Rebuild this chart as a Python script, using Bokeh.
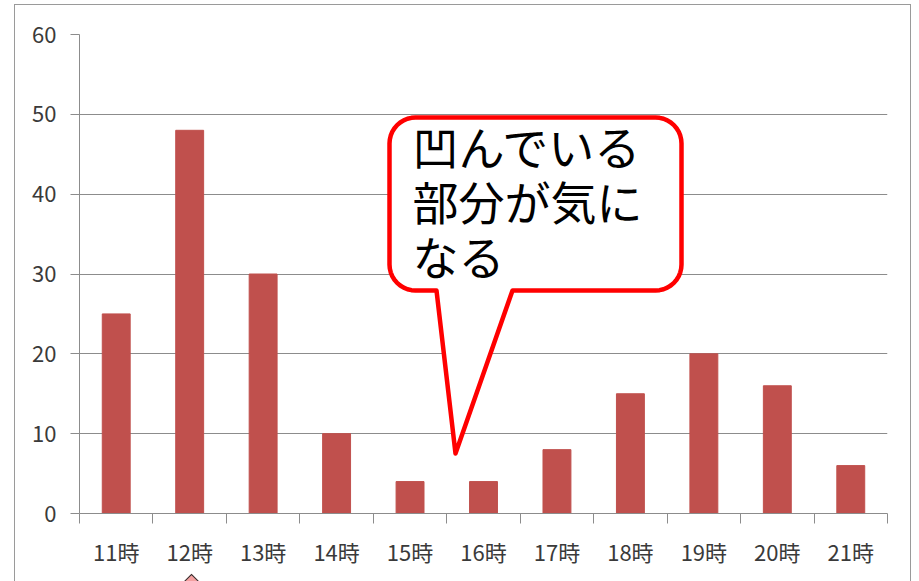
import math
from bokeh.plotting import figure
from bokeh.models import FixedTicker, Range1d, InlineStyleSheet
from bokeh.core.properties import value
from bokeh.embed import file_html
from bokeh.resources import INLINE

# ---- data ----
hours = ["11時", "12時", "13時", "14時", "15時", "16時", "17時", "18時", "19時", "20時", "21時"]
counts = [25, 48, 30, 10, 4, 4, 8, 15, 20, 16, 6]
y_ticks = [0, 10, 20, 30, 40, 50, 60]
callout_lines = ["凹んでいる", "部分が気に", "なる"]

# ---- layout ----
W, H = 915, 581
ML, MT = 79, 34
FW, FH = 808, 479
MR = W - ML - FW
MB = H - MT - FH
Y_MAX = 60
N = len(hours)

p = figure(width=W, height=H, x_range=Range1d(-0.5, N - 0.5), y_range=Range1d(0, Y_MAX),
           output_backend="svg", toolbar_location=None,
           min_border_left=ML, min_border_right=MR, min_border_top=MT, min_border_bottom=MB)
p.outline_line_color = None
p.background_fill_color = "white"
p.border_fill_color = "white"

GRAY = "#8c8c8c"
LABEL_FONT = "Noto Sans CJK JP"

p.vbar(x=list(range(N)), top=counts, width=0.38, color="#c0504d")

# x axis
p.xaxis.ticker = FixedTicker(ticks=list(range(N)), minor_ticks=[i - 0.5 for i in range(N + 1)])
p.xaxis.major_label_overrides = {i: h for i, h in enumerate(hours)}
p.xaxis.major_tick_in = 0
p.xaxis.major_tick_out = 0
p.xaxis.minor_tick_in = 0
p.xaxis.minor_tick_out = 10
p.xaxis.minor_tick_line_color = GRAY
p.xaxis.axis_line_color = GRAY
p.xaxis.major_label_standoff = 11
p.xaxis.major_label_text_font = LABEL_FONT
p.xaxis.major_label_text_font_size = "22px"
p.xaxis.major_label_text_color = "#3a3a3a"

# y axis
p.yaxis.ticker = FixedTicker(ticks=y_ticks, minor_ticks=[])
p.yaxis.major_tick_in = 0
p.yaxis.major_tick_out = 9
p.yaxis.major_tick_line_color = GRAY
p.yaxis.axis_line_color = GRAY
p.yaxis.major_label_standoff = 14
p.yaxis.major_label_text_font = LABEL_FONT
p.yaxis.major_label_text_font_size = "22px"
p.yaxis.major_label_text_color = "#3a3a3a"

p.xgrid.visible = False
p.ygrid.grid_line_color = GRAY
p.ygrid.grid_line_width = 1

# ---- callout: pixel geometry relative to frame bottom-left -> data ----
def dx(fx):
    return -0.5 + fx * N / FW

def dy(fy):
    return fy * Y_MAX / FH

L, R, T, B, r = 310, 602, 396, 223, 26
tail = [(357, B), (376, 60), (433, B)]
pts = list(tail)
def arc(cx, cy, a0, a1, n=10):
    out = []
    for k in range(n + 1):
        a = math.radians(a0 + (a1 - a0) * k / n)
        out.append((cx + r * math.cos(a), cy + r * math.sin(a)))
    return out
pts += arc(R - r, B + r, -90, 0)
pts += arc(R - r, T - r, 0, 90)
pts += arc(L + r, T - r, 90, 180)
pts += arc(L + r, B + r, 180, 270)
pts.append(tail[0])
p.patch([dx(a) for a, b in pts], [dy(b) for a, b in pts], fill_color="white",
        line_color="#ff0000", line_width=4.5, line_join="round")

p.text(x=[dx(333)] * 3, y=[dy(369), dy(314), dy(259)], text=callout_lines,
       text_font=value(LABEL_FONT), text_font_size="46px", text_color="black",
       text_baseline="middle", text_align="left")

# outer frame of the screenshot and the tip of a second callout at the bottom edge
css = """
:host { position: relative; overflow: hidden; }
:host::after {
  content: ""; position: absolute; left: 14px; top: 4px; width: 897px; height: 620px;
  border: 1.5px solid #9a9a9a; box-sizing: border-box; pointer-events: none; z-index: 10;
}
:host::before {
  content: ""; position: absolute; left: 186px; top: 576px; width: 9px; height: 9px;
  background: #f4a0a0; border: 1.5px solid #303030; transform: rotate(45deg);
  pointer-events: none; z-index: 10;
}
"""
p.stylesheets = [InlineStyleSheet(css=css)]

open("out.html", "w").write(file_html(p, INLINE))
